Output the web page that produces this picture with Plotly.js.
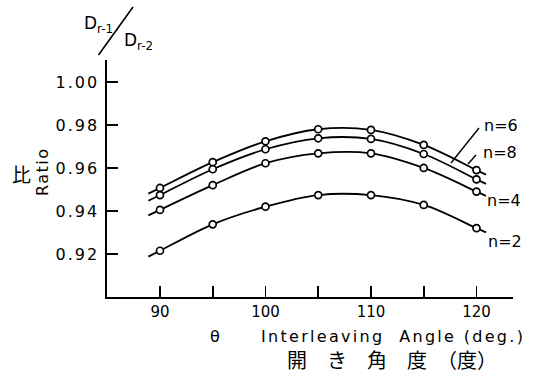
<!DOCTYPE html>
<html><head><meta charset="utf-8">
<script src="https://cdn.plot.ly/plotly-3.0.1.min.js"></script>
<style>html,body{margin:0;padding:0;background:#fff}#c{width:533px;height:376px}
.ytick text{letter-spacing:2px}</style>
</head><body><div id="c"></div>
<script>
const angles = [90, 95, 100, 105, 110, 115, 120];
const n6 = [0.9507, 0.9627, 0.9724, 0.9780, 0.9777, 0.9707, 0.9590];
const n8 = [0.9474, 0.9594, 0.9687, 0.9738, 0.9735, 0.9665, 0.9547];
const n4 = [0.9405, 0.9520, 0.9622, 0.9668, 0.9668, 0.9600, 0.9490];
const n2 = [0.9215, 0.9338, 0.9420, 0.9474, 0.9474, 0.9428, 0.9320];
const yTickVals = [0.92, 0.94, 0.96, 0.98, 1.00];
const yTickText = ['0.92', '0.94', '0.96', '0.98', '1.00'];
const xTickVals = [90, 100, 110, 120];
const xTickText = ['90', '100', '110', '120'];
const xMinorTickVals = [95, 105, 115];
const seriesNames = ['n=6', 'n=8', 'n=4', 'n=2'];
const series = [n6, n8, n4, n2];

const W = 533, H = 376, L = 107, R = 20, T = 60, B = 79;
const pw = W - L - R, ph = H - T - B;
const px = x => (x - L) / pw;
const py = y => (H - B - y) / ph;

const traces = [];
series.forEach((ys, i) => {
  const sL = (ys[1] - ys[0]) / (angles[1] - angles[0]);
  const k = ys.length - 1;
  const sR = (ys[k] - ys[k - 1]) / (angles[k] - angles[k - 1]);
  const x0 = angles[0] - 1.1, x1 = angles[k] + 0.9;
  const xs = [x0].concat(angles, [x1]);
  const yl = [ys[0] - sL * 1.1].concat(ys, [ys[k] + sR * 0.9]);
  traces.push({x: xs, y: yl, mode: 'lines', line: {color: '#000', width: 1.8, shape: 'spline', smoothing: 1},
    hoverinfo: 'skip', showlegend: false});
});
series.forEach((ys, i) => {
  traces.push({x: angles, y: ys, mode: 'markers', name: seriesNames[i],
    marker: {symbol: 'circle', size: 7, color: '#fff', line: {color: '#000', width: 1.7}}, showlegend: false});
});

const tf = {family: 'DejaVu Sans, sans-serif', size: 16, color: '#000'};
const sp = (t, s) => '<span style="letter-spacing:' + s + 'px">' + t + '</span>';
function ann(x, y, text, font, extra) {
  return Object.assign({xref: 'paper', yref: 'paper', x: px(x), y: py(y), text: text, showarrow: false,
    xanchor: 'center', yanchor: 'middle', font: font}, extra || {});
}
const layout = {
  width: W, height: H,
  margin: {l: L, r: R, t: T, b: B, pad: 0},
  paper_bgcolor: '#fff', plot_bgcolor: '#fff',
  showlegend: false,
  xaxis: {range: [84.98, 123.46], showgrid: false, zeroline: false, showline: true, linecolor: '#000', linewidth: 1.7,
    tickmode: 'array', tickvals: xTickVals, ticktext: xTickText, ticks: 'inside', ticklen: 11, tickwidth: 1.6, tickcolor: '#000',
    minor: {tickmode: 'array', tickvals: xMinorTickVals, ticks: 'inside', ticklen: 11, tickwidth: 1.6, tickcolor: '#000', showgrid: false},
    tickfont: {family: 'DejaVu Sans, sans-serif', size: 15, color: '#000'}, ticklabelstandoff: 0},
  yaxis: {range: [0.90, 1.0102], showgrid: false, zeroline: false, showline: true, linecolor: '#000', linewidth: 1.7,
    tickmode: 'array', tickvals: yTickVals, ticktext: yTickText, ticks: 'inside', ticklen: 11, tickwidth: 2, tickcolor: '#000',
    tickfont: tf, ticklabelstandoff: 3},
  annotations: [
    ann(501, 125, 'n=6', tf),
    ann(500, 152, 'n=8', tf),
    ann(504, 200, 'n=4', tf),
    ann(505, 241, 'n=2', tf),
    ann(98, 24, 'D<sub>r-1</sub>', {family: 'DejaVu Sans, sans-serif', size: 17, color: '#000'}),
    ann(138, 41, 'D<sub>r-2</sub>', {family: 'DejaVu Sans, sans-serif', size: 17, color: '#000'}),
    ann(42, 172, sp('Ratio', 1.5), tf, {textangle: -90}),
    ann(21, 173, '比', {family: 'Noto Sans CJK JP, sans-serif', size: 19, color: '#000'}),
    ann(215, 336, 'θ', tf),
    ann(393, 336, sp('Interleaving&nbsp;&nbsp;Angle (deg.)', 2.3), tf),
    ann(392, 359, '開　き　角　度　（度）', {family: 'Noto Sans CJK JP, sans-serif', size: 20, color: '#000'})
  ],
  shapes: [
    {type: 'line', xref: 'paper', yref: 'paper', x0: px(133), y0: py(7), x1: px(98.5), y1: py(55), line: {color: '#000', width: 1.6}},
    {type: 'line', xref: 'paper', yref: 'paper', x0: px(479), y0: py(128), x1: px(451), y1: py(163), line: {color: '#000', width: 1.4}},
    {type: 'line', xref: 'paper', yref: 'paper', x0: px(476), y0: py(155), x1: px(468), y1: py(164), line: {color: '#000', width: 1.4}}
  ]
};
Plotly.newPlot('c', traces, layout, {displayModeBar: false, staticPlot: true});
</script></body></html>
